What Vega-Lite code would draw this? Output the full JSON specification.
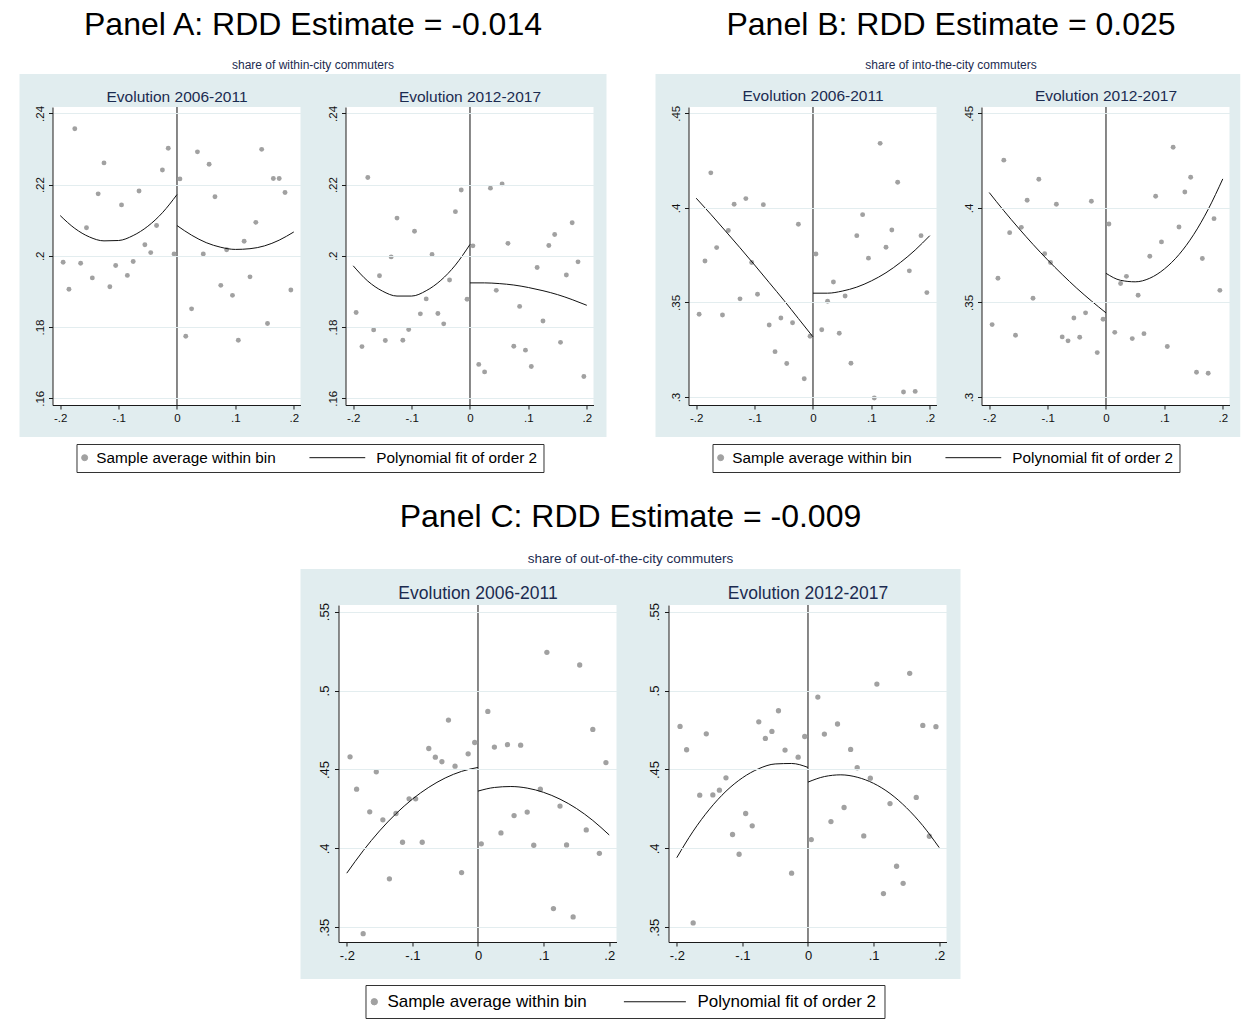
{
"$schema": "https://vega.github.io/schema/vega-lite/v6.json",
"background": "white",
"padding": {"left": 19, "top": 8, "right": 0, "bottom": 4},
"spacing": 28,
"center": true,
"resolve": {"scale": {"color": "independent", "shape": "independent", "x": "independent", "y": "independent"}, "legend": {"color": "independent", "shape": "independent"}},
"datasets": {
"a1p": [{"x":-0.195,"y":0.1982},{"x":-0.185,"y":0.1906},{"x":-0.175,"y":0.2357},{"x":-0.165,"y":0.1979},{"x":-0.155,"y":0.2079},{"x":-0.145,"y":0.1938},{"x":-0.135,"y":0.2174},{"x":-0.125,"y":0.2261},{"x":-0.115,"y":0.1913},{"x":-0.105,"y":0.1973},{"x":-0.095,"y":0.2143},{"x":-0.085,"y":0.1945},{"x":-0.075,"y":0.1984},{"x":-0.065,"y":0.2182},{"x":-0.055,"y":0.2031},{"x":-0.045,"y":0.2009},{"x":-0.035,"y":0.2085},{"x":-0.025,"y":0.2241},{"x":-0.015,"y":0.2302},{"x":-0.005,"y":0.2005},{"x":0.005,"y":0.2216},{"x":0.015,"y":0.1774},{"x":0.025,"y":0.1851},{"x":0.035,"y":0.2292},{"x":0.045,"y":0.2005},{"x":0.055,"y":0.2257},{"x":0.065,"y":0.2166},{"x":0.075,"y":0.1917},{"x":0.085,"y":0.2017},{"x":0.095,"y":0.1889},{"x":0.105,"y":0.1763},{"x":0.115,"y":0.2041},{"x":0.125,"y":0.1941},{"x":0.135,"y":0.2094},{"x":0.145,"y":0.2299},{"x":0.155,"y":0.1810},{"x":0.165,"y":0.2217},{"x":0.175,"y":0.2217},{"x":0.185,"y":0.2178},{"x":0.195,"y":0.1904}],
"a1f": [{"x":-0.2,"y":0.2113,"side":"L"},{"x":-0.175,"y":0.2077,"side":"L"},{"x":-0.15,"y":0.2053,"side":"L"},{"x":-0.125,"y":0.2042,"side":"L"},{"x":-0.1,"y":0.2043,"side":"L"},{"x":-0.075,"y":0.2057,"side":"L"},{"x":-0.05,"y":0.2083,"side":"L"},{"x":-0.025,"y":0.2121,"side":"L"},{"x":0,"y":0.2172,"side":"L"},{"x":0,"y":0.2085,"side":"R"},{"x":0.025,"y":0.2058,"side":"R"},{"x":0.05,"y":0.2037,"side":"R"},{"x":0.075,"y":0.2024,"side":"R"},{"x":0.1,"y":0.2018,"side":"R"},{"x":0.125,"y":0.2020,"side":"R"},{"x":0.15,"y":0.2028,"side":"R"},{"x":0.175,"y":0.2044,"side":"R"},{"x":0.2,"y":0.2067,"side":"R"}],
"a2p": [{"x":-0.195,"y":0.1841},{"x":-0.185,"y":0.1745},{"x":-0.175,"y":0.2220},{"x":-0.165,"y":0.1792},{"x":-0.155,"y":0.1944},{"x":-0.145,"y":0.1762},{"x":-0.135,"y":0.1997},{"x":-0.125,"y":0.2106},{"x":-0.115,"y":0.1763},{"x":-0.105,"y":0.1793},{"x":-0.095,"y":0.2069},{"x":-0.085,"y":0.1837},{"x":-0.075,"y":0.1879},{"x":-0.065,"y":0.2004},{"x":-0.055,"y":0.1838},{"x":-0.045,"y":0.1809},{"x":-0.035,"y":0.1932},{"x":-0.025,"y":0.2124},{"x":-0.015,"y":0.2185},{"x":-0.005,"y":0.1878},{"x":0.005,"y":0.2028},{"x":0.015,"y":0.1695},{"x":0.025,"y":0.1674},{"x":0.035,"y":0.2190},{"x":0.045,"y":0.1903},{"x":0.055,"y":0.2202},{"x":0.065,"y":0.2035},{"x":0.075,"y":0.1746},{"x":0.085,"y":0.1858},{"x":0.095,"y":0.1735},{"x":0.105,"y":0.1689},{"x":0.115,"y":0.1967},{"x":0.125,"y":0.1817},{"x":0.135,"y":0.2029},{"x":0.145,"y":0.2060},{"x":0.155,"y":0.1757},{"x":0.165,"y":0.1946},{"x":0.175,"y":0.2093},{"x":0.185,"y":0.1983},{"x":0.195,"y":0.1661}],
"a2f": [{"x":-0.2,"y":0.1972,"side":"L"},{"x":-0.175,"y":0.1929,"side":"L"},{"x":-0.15,"y":0.1901,"side":"L"},{"x":-0.125,"y":0.1887,"side":"L"},{"x":-0.1,"y":0.1887,"side":"L"},{"x":-0.075,"y":0.1902,"side":"L"},{"x":-0.05,"y":0.1931,"side":"L"},{"x":-0.025,"y":0.1974,"side":"L"},{"x":0,"y":0.2032,"side":"L"},{"x":0,"y":0.1924,"side":"R"},{"x":0.025,"y":0.1924,"side":"R"},{"x":0.05,"y":0.1922,"side":"R"},{"x":0.075,"y":0.1918,"side":"R"},{"x":0.1,"y":0.1911,"side":"R"},{"x":0.125,"y":0.1902,"side":"R"},{"x":0.15,"y":0.1891,"side":"R"},{"x":0.175,"y":0.1877,"side":"R"},{"x":0.2,"y":0.1861,"side":"R"}],
"b1p": [{"x":-0.195,"y":0.3438},{"x":-0.185,"y":0.3719},{"x":-0.175,"y":0.4185},{"x":-0.165,"y":0.3790},{"x":-0.155,"y":0.3434},{"x":-0.145,"y":0.3880},{"x":-0.135,"y":0.4019},{"x":-0.125,"y":0.3519},{"x":-0.115,"y":0.4049},{"x":-0.105,"y":0.3711},{"x":-0.095,"y":0.3543},{"x":-0.085,"y":0.4017},{"x":-0.075,"y":0.3381},{"x":-0.065,"y":0.3240},{"x":-0.055,"y":0.3418},{"x":-0.045,"y":0.3177},{"x":-0.035,"y":0.3393},{"x":-0.025,"y":0.3913},{"x":-0.015,"y":0.3097},{"x":-0.005,"y":0.3321},{"x":0.005,"y":0.3756},{"x":0.015,"y":0.3356},{"x":0.025,"y":0.3506},{"x":0.035,"y":0.3608},{"x":0.045,"y":0.3337},{"x":0.055,"y":0.3534},{"x":0.065,"y":0.3179},{"x":0.075,"y":0.3853},{"x":0.085,"y":0.3964},{"x":0.095,"y":0.3734},{"x":0.105,"y":0.2995},{"x":0.115,"y":0.4341},{"x":0.125,"y":0.3792},{"x":0.135,"y":0.3883},{"x":0.145,"y":0.4135},{"x":0.155,"y":0.3027},{"x":0.165,"y":0.3667},{"x":0.175,"y":0.3030},{"x":0.185,"y":0.3853},{"x":0.195,"y":0.3552}],
"b1f": [{"x":-0.2,"y":0.4051,"side":"L"},{"x":-0.175,"y":0.3966,"side":"L"},{"x":-0.15,"y":0.3878,"side":"L"},{"x":-0.125,"y":0.3789,"side":"L"},{"x":-0.1,"y":0.3698,"side":"L"},{"x":-0.075,"y":0.3605,"side":"L"},{"x":-0.05,"y":0.3512,"side":"L"},{"x":-0.025,"y":0.3415,"side":"L"},{"x":0,"y":0.3318,"side":"L"},{"x":0,"y":0.3549,"side":"R"},{"x":0.025,"y":0.3549,"side":"R"},{"x":0.05,"y":0.3560,"side":"R"},{"x":0.075,"y":0.3581,"side":"R"},{"x":0.1,"y":0.3614,"side":"R"},{"x":0.125,"y":0.3657,"side":"R"},{"x":0.15,"y":0.3712,"side":"R"},{"x":0.175,"y":0.3777,"side":"R"},{"x":0.2,"y":0.3853,"side":"R"}],
"b2p": [{"x":-0.195,"y":0.3383},{"x":-0.185,"y":0.3628},{"x":-0.175,"y":0.4252},{"x":-0.165,"y":0.3869},{"x":-0.155,"y":0.3327},{"x":-0.145,"y":0.3897},{"x":-0.135,"y":0.4040},{"x":-0.125,"y":0.3522},{"x":-0.115,"y":0.4151},{"x":-0.105,"y":0.3758},{"x":-0.095,"y":0.3711},{"x":-0.085,"y":0.4019},{"x":-0.075,"y":0.3318},{"x":-0.065,"y":0.3297},{"x":-0.055,"y":0.3418},{"x":-0.045,"y":0.3316},{"x":-0.035,"y":0.3445},{"x":-0.025,"y":0.4035},{"x":-0.015,"y":0.3235},{"x":-0.005,"y":0.3411},{"x":0.005,"y":0.3915},{"x":0.015,"y":0.3342},{"x":0.025,"y":0.3600},{"x":0.035,"y":0.3638},{"x":0.045,"y":0.3309},{"x":0.055,"y":0.3538},{"x":0.065,"y":0.3335},{"x":0.075,"y":0.3744},{"x":0.085,"y":0.4061},{"x":0.095,"y":0.3820},{"x":0.105,"y":0.3267},{"x":0.115,"y":0.4320},{"x":0.125,"y":0.3899},{"x":0.135,"y":0.4084},{"x":0.145,"y":0.4162},{"x":0.155,"y":0.3131},{"x":0.165,"y":0.3732},{"x":0.175,"y":0.3126},{"x":0.185,"y":0.3943},{"x":0.195,"y":0.3564}],
"b2f": [{"x":-0.2,"y":0.4081,"side":"L"},{"x":-0.175,"y":0.3985,"side":"L"},{"x":-0.15,"y":0.3894,"side":"L"},{"x":-0.125,"y":0.3807,"side":"L"},{"x":-0.1,"y":0.3725,"side":"L"},{"x":-0.075,"y":0.3648,"side":"L"},{"x":-0.05,"y":0.3575,"side":"L"},{"x":-0.025,"y":0.3508,"side":"L"},{"x":0,"y":0.3445,"side":"L"},{"x":0,"y":0.3654,"side":"R"},{"x":0.025,"y":0.3617,"side":"R"},{"x":0.05,"y":0.3609,"side":"R"},{"x":0.075,"y":0.3628,"side":"R"},{"x":0.1,"y":0.3677,"side":"R"},{"x":0.125,"y":0.3753,"side":"R"},{"x":0.15,"y":0.3858,"side":"R"},{"x":0.175,"y":0.3992,"side":"R"},{"x":0.2,"y":0.4153,"side":"R"}],
"c1p": [{"x":-0.195,"y":0.4580},{"x":-0.185,"y":0.4375},{"x":-0.175,"y":0.3460},{"x":-0.165,"y":0.4232},{"x":-0.155,"y":0.4485},{"x":-0.145,"y":0.4181},{"x":-0.135,"y":0.3807},{"x":-0.125,"y":0.4221},{"x":-0.115,"y":0.4039},{"x":-0.105,"y":0.4314},{"x":-0.095,"y":0.4314},{"x":-0.085,"y":0.4039},{"x":-0.075,"y":0.4633},{"x":-0.065,"y":0.4578},{"x":-0.055,"y":0.4549},{"x":-0.045,"y":0.4813},{"x":-0.035,"y":0.4521},{"x":-0.025,"y":0.3847},{"x":-0.015,"y":0.4599},{"x":-0.005,"y":0.4671},{"x":0.005,"y":0.4029},{"x":0.015,"y":0.4868},{"x":0.025,"y":0.4642},{"x":0.035,"y":0.4098},{"x":0.045,"y":0.4657},{"x":0.055,"y":0.4208},{"x":0.065,"y":0.4654},{"x":0.075,"y":0.4230},{"x":0.085,"y":0.4020},{"x":0.095,"y":0.4375},{"x":0.105,"y":0.5242},{"x":0.115,"y":0.3619},{"x":0.125,"y":0.4268},{"x":0.135,"y":0.4022},{"x":0.145,"y":0.3566},{"x":0.155,"y":0.5162},{"x":0.165,"y":0.4117},{"x":0.175,"y":0.4754},{"x":0.185,"y":0.3969},{"x":0.195,"y":0.4544}],
"c1f": [{"x":-0.2,"y":0.3843,"side":"L"},{"x":-0.175,"y":0.3985,"side":"L"},{"x":-0.15,"y":0.4111,"side":"L"},{"x":-0.125,"y":0.4220,"side":"L"},{"x":-0.1,"y":0.4312,"side":"L"},{"x":-0.075,"y":0.4387,"side":"L"},{"x":-0.05,"y":0.4446,"side":"L"},{"x":-0.025,"y":0.4488,"side":"L"},{"x":0,"y":0.4513,"side":"L"},{"x":0,"y":0.4363,"side":"R"},{"x":0.025,"y":0.4386,"side":"R"},{"x":0.05,"y":0.4392,"side":"R"},{"x":0.075,"y":0.4382,"side":"R"},{"x":0.1,"y":0.4355,"side":"R"},{"x":0.125,"y":0.4312,"side":"R"},{"x":0.15,"y":0.4253,"side":"R"},{"x":0.175,"y":0.4177,"side":"R"},{"x":0.2,"y":0.4085,"side":"R"}],
"c2p": [{"x":-0.195,"y":0.4773},{"x":-0.185,"y":0.4625},{"x":-0.175,"y":0.3528},{"x":-0.165,"y":0.4337},{"x":-0.155,"y":0.4726},{"x":-0.145,"y":0.4339},{"x":-0.135,"y":0.4369},{"x":-0.125,"y":0.4447},{"x":-0.115,"y":0.4088},{"x":-0.105,"y":0.3963},{"x":-0.095,"y":0.4221},{"x":-0.085,"y":0.4143},{"x":-0.075,"y":0.4802},{"x":-0.065,"y":0.4697},{"x":-0.055,"y":0.4741},{"x":-0.045,"y":0.4872},{"x":-0.035,"y":0.4623},{"x":-0.025,"y":0.3843},{"x":-0.015,"y":0.4578},{"x":-0.005,"y":0.4709},{"x":0.005,"y":0.4056},{"x":0.015,"y":0.4959},{"x":0.025,"y":0.4724},{"x":0.035,"y":0.4170},{"x":0.045,"y":0.4788},{"x":0.055,"y":0.4259},{"x":0.065,"y":0.4627},{"x":0.075,"y":0.4511},{"x":0.085,"y":0.4079},{"x":0.095,"y":0.4445},{"x":0.105,"y":0.5041},{"x":0.115,"y":0.3714},{"x":0.125,"y":0.4284},{"x":0.135,"y":0.3887},{"x":0.145,"y":0.3779},{"x":0.155,"y":0.5109},{"x":0.165,"y":0.4323},{"x":0.175,"y":0.4779},{"x":0.185,"y":0.4077},{"x":0.195,"y":0.4771}],
"c2f": [{"x":-0.2,"y":0.3941,"side":"L"},{"x":-0.175,"y":0.4109,"side":"L"},{"x":-0.15,"y":0.4249,"side":"L"},{"x":-0.125,"y":0.4362,"side":"L"},{"x":-0.1,"y":0.4447,"side":"L"},{"x":-0.075,"y":0.4505,"side":"L"},{"x":-0.05,"y":0.4535,"side":"L"},{"x":-0.025,"y":0.4538,"side":"L"},{"x":0,"y":0.4513,"side":"L"},{"x":0,"y":0.4420,"side":"R"},{"x":0.025,"y":0.4455,"side":"R"},{"x":0.05,"y":0.4466,"side":"R"},{"x":0.075,"y":0.4451,"side":"R"},{"x":0.1,"y":0.4412,"side":"R"},{"x":0.125,"y":0.4348,"side":"R"},{"x":0.15,"y":0.4258,"side":"R"},{"x":0.175,"y":0.4144,"side":"R"},{"x":0.2,"y":0.4005,"side":"R"}]
},
"vconcat": [
{
"spacing": 49,
"resolve": {"scale": {"color": "independent", "shape": "independent", "x": "independent", "y": "independent"}, "legend": {"color": "independent", "shape": "independent"}},
"hconcat": [
{
"title": {"text": "Panel A: RDD Estimate = -0.014", "subtitle": "share of within-city commuters"},
"bounds": "flush",
"spacing": 45,
"resolve": {"scale": {"x": "independent", "y": "independent"}},
"hconcat": [
{"width": 248, "height": 298, "layer": [
 {"data": {"values": [{}]}, "mark": {"type": "rect", "color": "#e1edef"}, "encoding": {
  "x": {"datum": -0.26971, "type": "quantitative", "scale": {"domain": [-0.2132, 0.2115], "nice": false, "zero": false}, "axis": {"zindex": 1, "values": [-0.2, -0.1, 0, 0.1, 0.2], "labelExpr": "datum.value == 0 ? '0' : (datum.value < 0 ? '-' : '') + slice(format(abs(datum.value), '.2~f'), 1)"}},
  "x2": {"datum": 0.25003},
  "y": {"datum": 0.25107, "type": "quantitative", "scale": {"domain": [0.1581, 0.2418], "nice": false, "zero": false}, "axis": {"zindex": 1, "values": [0.16, 0.18, 0.2, 0.22, 0.24], "labelExpr": "datum.value == 0 ? '0' : (datum.value < 0 ? '-' : '') + slice(format(abs(datum.value), '.2~f'), 1)"}},
  "y2": {"datum": 0.14911}}},
 {"data": {"values": [{}]}, "mark": {"type": "rect", "color": "white"}, "encoding": {"x": {"datum": -0.2132, "type": "quantitative"}, "x2": {"datum": 0.2115}, "y": {"datum": 0.2418, "type": "quantitative"}, "y2": {"datum": 0.1581}}},
 {"data": {"values": [{}]}, "mark": {"type": "rule", "color": "#111111", "strokeWidth": 1}, "encoding": {"x": {"datum": 0, "type": "quantitative"}}},
 {"data": {"name": "a1p"}, "mark": {"type": "point", "filled": true, "size": 24, "opacity": 1, "strokeWidth": 0}, "encoding": {
  "x": {"field": "x", "type": "quantitative"}, "y": {"field": "y", "type": "quantitative"},
  "color": {"datum": "Sample average within bin", "type": "nominal", "scale": {"domain": ["Sample average within bin", "Polynomial fit of order 2"], "range": ["#a1a1a1", "#111111"]},
   "legend": {"orient": "none", "legendX": 24, "legendY": 337, "direction": "horizontal", "title": null, "labelFontSize": 15.3, "labelOffset": 4, "symbolOffset": -5.5, "columnPadding": 30, "padding": 6, "symbolSize": 36, "symbolStrokeWidth": 1, "symbolOpacity": 1}},
  "shape": {"datum": "Sample average within bin", "type": "nominal", "scale": {"domain": ["Sample average within bin", "Polynomial fit of order 2"], "range": ["circle", "M-18.4,0H0.2"]},
   "legend": {"orient": "none", "legendX": 24, "legendY": 337, "direction": "horizontal", "title": null, "labelFontSize": 15.3, "labelOffset": 4, "symbolOffset": -5.5, "columnPadding": 30, "padding": 6, "symbolSize": 36, "symbolStrokeWidth": 1, "symbolOpacity": 1}}}},
 {"data": {"name": "a1f"}, "mark": {"type": "line", "strokeWidth": 1, "interpolate": "monotone"}, "encoding": {"x": {"field": "x", "type": "quantitative"}, "y": {"field": "y", "type": "quantitative"}, "detail": {"field": "side", "type": "nominal"}, "color": {"datum": "Polynomial fit of order 2", "type": "nominal"}}},
 {"data": {"values": [{}]}, "mark": {"type": "text", "text": "Evolution 2006-2011", "fontSize": 15.5, "color": "#1b2b50", "align": "center", "baseline": "alphabetic"}, "encoding": {"x": {"datum": 0, "type": "quantitative"}, "y": {"datum": 0.24334, "type": "quantitative"}}}
]},
{"width": 248, "height": 298, "layer": [
 {"data": {"values": [{}]}, "mark": {"type": "rect", "color": "#e1edef"}, "encoding": {
  "x": {"datum": -0.25259, "type": "quantitative", "scale": {"domain": [-0.2132, 0.2115], "nice": false, "zero": false}, "axis": {"zindex": 1, "values": [-0.2, -0.1, 0, 0.1, 0.2], "labelExpr": "datum.value == 0 ? '0' : (datum.value < 0 ? '-' : '') + slice(format(abs(datum.value), '.2~f'), 1)"}},
  "x2": {"datum": 0.23376},
  "y": {"datum": 0.25107, "type": "quantitative", "scale": {"domain": [0.1581, 0.2418], "nice": false, "zero": false}, "axis": {"zindex": 1, "values": [0.16, 0.18, 0.2, 0.22, 0.24], "labelExpr": "datum.value == 0 ? '0' : (datum.value < 0 ? '-' : '') + slice(format(abs(datum.value), '.2~f'), 1)"}},
  "y2": {"datum": 0.14911}}},
 {"data": {"values": [{}]}, "mark": {"type": "rect", "color": "white"}, "encoding": {"x": {"datum": -0.2132, "type": "quantitative"}, "x2": {"datum": 0.2115}, "y": {"datum": 0.2418, "type": "quantitative"}, "y2": {"datum": 0.1581}}},
 {"data": {"values": [{}]}, "mark": {"type": "rule", "color": "#111111", "strokeWidth": 1}, "encoding": {"x": {"datum": 0, "type": "quantitative"}}},
 {"data": {"name": "a2p"}, "mark": {"type": "point", "filled": true, "size": 24, "opacity": 1, "strokeWidth": 0}, "encoding": {"x": {"field": "x", "type": "quantitative"}, "y": {"field": "y", "type": "quantitative"}, "color": {"datum": "Sample average within bin", "type": "nominal"}}},
 {"data": {"name": "a2f"}, "mark": {"type": "line", "strokeWidth": 1, "interpolate": "monotone"}, "encoding": {"x": {"field": "x", "type": "quantitative"}, "y": {"field": "y", "type": "quantitative"}, "detail": {"field": "side", "type": "nominal"}, "color": {"datum": "Polynomial fit of order 2", "type": "nominal"}}},
 {"data": {"values": [{}]}, "mark": {"type": "text", "text": "Evolution 2012-2017", "fontSize": 15.5, "color": "#1b2b50", "align": "center", "baseline": "alphabetic"}, "encoding": {"x": {"datum": 0, "type": "quantitative"}, "y": {"datum": 0.24334, "type": "quantitative"}}}
]}
]
},
{
"title": {"text": "Panel B: RDD Estimate = 0.025", "subtitle": "share of into-the-city commuters"},
"bounds": "flush",
"spacing": 45,
"resolve": {"scale": {"x": "independent", "y": "independent"}},
"hconcat": [
{"width": 248, "height": 298, "layer": [
 {"data": {"values": [{}]}, "mark": {"type": "rect", "color": "#e1edef"}, "encoding": {
  "x": {"datum": -0.26971, "type": "quantitative", "scale": {"domain": [-0.2132, 0.2115], "nice": false, "zero": false}, "axis": {"zindex": 1, "values": [-0.2, -0.1, 0, 0.1, 0.2], "labelExpr": "datum.value == 0 ? '0' : (datum.value < 0 ? '-' : '') + slice(format(abs(datum.value), '.2~f'), 1)"}},
  "x2": {"datum": 0.25003},
  "y": {"datum": 0.47074, "type": "quantitative", "scale": {"domain": [0.2958, 0.4533], "nice": false, "zero": false}, "axis": {"zindex": 1, "values": [0.3, 0.35, 0.4, 0.45], "labelExpr": "datum.value == 0 ? '0' : (datum.value < 0 ? '-' : '') + slice(format(abs(datum.value), '.2~f'), 1)"}},
  "y2": {"datum": 0.27889}}},
 {"data": {"values": [{}]}, "mark": {"type": "rect", "color": "white"}, "encoding": {"x": {"datum": -0.2132, "type": "quantitative"}, "x2": {"datum": 0.2115}, "y": {"datum": 0.4533, "type": "quantitative"}, "y2": {"datum": 0.2958}}},
 {"data": {"values": [{}]}, "mark": {"type": "rule", "color": "#111111", "strokeWidth": 1}, "encoding": {"x": {"datum": 0, "type": "quantitative"}}},
 {"data": {"name": "b1p"}, "mark": {"type": "point", "filled": true, "size": 24, "opacity": 1, "strokeWidth": 0}, "encoding": {
  "x": {"field": "x", "type": "quantitative"}, "y": {"field": "y", "type": "quantitative"},
  "color": {"datum": "Sample average within bin", "type": "nominal", "scale": {"domain": ["Sample average within bin", "Polynomial fit of order 2"], "range": ["#a1a1a1", "#111111"]},
   "legend": {"orient": "none", "legendX": 24, "legendY": 337, "direction": "horizontal", "title": null, "labelFontSize": 15.3, "labelOffset": 4, "symbolOffset": -5.5, "columnPadding": 30, "padding": 6, "symbolSize": 36, "symbolStrokeWidth": 1, "symbolOpacity": 1}},
  "shape": {"datum": "Sample average within bin", "type": "nominal", "scale": {"domain": ["Sample average within bin", "Polynomial fit of order 2"], "range": ["circle", "M-18.4,0H0.2"]},
   "legend": {"orient": "none", "legendX": 24, "legendY": 337, "direction": "horizontal", "title": null, "labelFontSize": 15.3, "labelOffset": 4, "symbolOffset": -5.5, "columnPadding": 30, "padding": 6, "symbolSize": 36, "symbolStrokeWidth": 1, "symbolOpacity": 1}}}},
 {"data": {"name": "b1f"}, "mark": {"type": "line", "strokeWidth": 1, "interpolate": "monotone"}, "encoding": {"x": {"field": "x", "type": "quantitative"}, "y": {"field": "y", "type": "quantitative"}, "detail": {"field": "side", "type": "nominal"}, "color": {"datum": "Polynomial fit of order 2", "type": "nominal"}}},
 {"data": {"values": [{}]}, "mark": {"type": "text", "text": "Evolution 2006-2011", "fontSize": 15.5, "color": "#1b2b50", "align": "center", "baseline": "alphabetic"}, "encoding": {"x": {"datum": 0, "type": "quantitative"}, "y": {"datum": 0.45621, "type": "quantitative"}}}
]},
{"width": 248, "height": 298, "layer": [
 {"data": {"values": [{}]}, "mark": {"type": "rect", "color": "#e1edef"}, "encoding": {
  "x": {"datum": -0.25259, "type": "quantitative", "scale": {"domain": [-0.2132, 0.2115], "nice": false, "zero": false}, "axis": {"zindex": 1, "values": [-0.2, -0.1, 0, 0.1, 0.2], "labelExpr": "datum.value == 0 ? '0' : (datum.value < 0 ? '-' : '') + slice(format(abs(datum.value), '.2~f'), 1)"}},
  "x2": {"datum": 0.23034},
  "y": {"datum": 0.47074, "type": "quantitative", "scale": {"domain": [0.2958, 0.4533], "nice": false, "zero": false}, "axis": {"zindex": 1, "values": [0.3, 0.35, 0.4, 0.45], "labelExpr": "datum.value == 0 ? '0' : (datum.value < 0 ? '-' : '') + slice(format(abs(datum.value), '.2~f'), 1)"}},
  "y2": {"datum": 0.27889}}},
 {"data": {"values": [{}]}, "mark": {"type": "rect", "color": "white"}, "encoding": {"x": {"datum": 0.23034, "type": "quantitative"}, "x2": {"datum": 0.24062}, "y": {"datum": 0.47074, "type": "quantitative"}, "y2": {"datum": 0.27889}}},
 {"data": {"values": [{}]}, "mark": {"type": "rect", "color": "white"}, "encoding": {"x": {"datum": -0.2132, "type": "quantitative"}, "x2": {"datum": 0.2115}, "y": {"datum": 0.4533, "type": "quantitative"}, "y2": {"datum": 0.2958}}},
 {"data": {"values": [{}]}, "mark": {"type": "rule", "color": "#111111", "strokeWidth": 1}, "encoding": {"x": {"datum": 0, "type": "quantitative"}}},
 {"data": {"name": "b2p"}, "mark": {"type": "point", "filled": true, "size": 24, "opacity": 1, "strokeWidth": 0}, "encoding": {"x": {"field": "x", "type": "quantitative"}, "y": {"field": "y", "type": "quantitative"}, "color": {"datum": "Sample average within bin", "type": "nominal"}}},
 {"data": {"name": "b2f"}, "mark": {"type": "line", "strokeWidth": 1, "interpolate": "monotone"}, "encoding": {"x": {"field": "x", "type": "quantitative"}, "y": {"field": "y", "type": "quantitative"}, "detail": {"field": "side", "type": "nominal"}, "color": {"datum": "Polynomial fit of order 2", "type": "nominal"}}},
 {"data": {"values": [{}]}, "mark": {"type": "text", "text": "Evolution 2012-2017", "fontSize": 15.5, "color": "#1b2b50", "align": "center", "baseline": "alphabetic"}, "encoding": {"x": {"datum": 0, "type": "quantitative"}, "y": {"datum": 0.45621, "type": "quantitative"}}}
]}
]
}
]
},
{
"title": {"text": "Panel C: RDD Estimate = -0.009", "subtitle": "share of  out-of-the-city commuters", "subtitleFontSize": 13.5},
"bounds": "flush",
"spacing": 52,
"resolve": {"scale": {"x": "independent", "y": "independent"}},
"hconcat": [
{"width": 278, "height": 337, "layer": [
 {"data": {"values": [{}]}, "mark": {"type": "rect", "color": "#e1edef"}, "encoding": {
  "x": {"datum": -0.27052, "type": "quantitative", "scale": {"domain": [-0.2126, 0.2111], "nice": false, "zero": false}, "axis": {"zindex": 1, "values": [-0.2, -0.1, 0, 0.1, 0.2], "labelFontSize": 13, "labelExpr": "datum.value == 0 ? '0' : (datum.value < 0 ? '-' : '') + slice(format(abs(datum.value), '.2~f'), 1)"}},
  "x2": {"datum": 0.25149},
  "y": {"datum": 0.57701, "type": "quantitative", "scale": {"domain": [0.3407, 0.5542], "nice": false, "zero": false}, "axis": {"zindex": 1, "values": [0.35, 0.4, 0.45, 0.5, 0.55], "labelFontSize": 13, "labelExpr": "datum.value == 0 ? '0' : (datum.value < 0 ? '-' : '') + slice(format(abs(datum.value), '.2~f'), 1)"}},
  "y2": {"datum": 0.31726}}},
 {"data": {"values": [{}]}, "mark": {"type": "rect", "color": "white"}, "encoding": {"x": {"datum": -0.2126, "type": "quantitative"}, "x2": {"datum": 0.2111}, "y": {"datum": 0.5542, "type": "quantitative"}, "y2": {"datum": 0.3407}}},
 {"data": {"values": [{}]}, "mark": {"type": "rule", "color": "#111111", "strokeWidth": 1}, "encoding": {"x": {"datum": 0, "type": "quantitative"}}},
 {"data": {"name": "c1p"}, "mark": {"type": "point", "filled": true, "size": 28, "opacity": 1, "strokeWidth": 0}, "encoding": {
  "x": {"field": "x", "type": "quantitative"}, "y": {"field": "y", "type": "quantitative"},
  "color": {"datum": "Sample average within bin", "type": "nominal", "scale": {"domain": ["Sample average within bin", "Polynomial fit of order 2"], "range": ["#a1a1a1", "#111111"]},
   "legend": {"orient": "none", "legendX": 27, "legendY": 380, "direction": "horizontal", "title": null, "labelFontSize": 17, "labelOffset": 4.6, "symbolOffset": -7.7, "columnPadding": 34, "padding": 8, "symbolSize": 40, "symbolStrokeWidth": 1, "symbolOpacity": 1}},
  "shape": {"datum": "Sample average within bin", "type": "nominal", "scale": {"domain": ["Sample average within bin", "Polynomial fit of order 2"], "range": ["circle", "M-19.1,0H0.5"]},
   "legend": {"orient": "none", "legendX": 27, "legendY": 380, "direction": "horizontal", "title": null, "labelFontSize": 17, "labelOffset": 4.6, "symbolOffset": -7.7, "columnPadding": 34, "padding": 8, "symbolSize": 40, "symbolStrokeWidth": 1, "symbolOpacity": 1}}}},
 {"data": {"name": "c1f"}, "mark": {"type": "line", "strokeWidth": 1, "interpolate": "monotone"}, "encoding": {"x": {"field": "x", "type": "quantitative"}, "y": {"field": "y", "type": "quantitative"}, "detail": {"field": "side", "type": "nominal"}, "color": {"datum": "Polynomial fit of order 2", "type": "nominal"}}},
 {"data": {"values": [{}]}, "mark": {"type": "text", "text": "Evolution 2006-2011", "fontSize": 17.5, "color": "#1b2b50", "align": "center", "baseline": "alphabetic"}, "encoding": {"x": {"datum": 0, "type": "quantitative"}, "y": {"datum": 0.558, "type": "quantitative"}}}
]},
{"width": 278, "height": 337, "layer": [
 {"data": {"values": [{}]}, "mark": {"type": "rect", "color": "#e1edef"}, "encoding": {
  "x": {"datum": -0.25223, "type": "quantitative", "scale": {"domain": [-0.2126, 0.2111], "nice": false, "zero": false}, "axis": {"zindex": 1, "values": [-0.2, -0.1, 0, 0.1, 0.2], "labelFontSize": 13, "labelExpr": "datum.value == 0 ? '0' : (datum.value < 0 ? '-' : '') + slice(format(abs(datum.value), '.2~f'), 1)"}},
  "x2": {"datum": 0.23244},
  "y": {"datum": 0.57701, "type": "quantitative", "scale": {"domain": [0.3407, 0.5542], "nice": false, "zero": false}, "axis": {"zindex": 1, "values": [0.35, 0.4, 0.45, 0.5, 0.55], "labelFontSize": 13, "labelExpr": "datum.value == 0 ? '0' : (datum.value < 0 ? '-' : '') + slice(format(abs(datum.value), '.2~f'), 1)"}},
  "y2": {"datum": 0.31726}}},
 {"data": {"values": [{}]}, "mark": {"type": "rect", "color": "white"}, "encoding": {"x": {"datum": -0.2126, "type": "quantitative"}, "x2": {"datum": 0.2111}, "y": {"datum": 0.5542, "type": "quantitative"}, "y2": {"datum": 0.3407}}},
 {"data": {"values": [{}]}, "mark": {"type": "rule", "color": "#111111", "strokeWidth": 1}, "encoding": {"x": {"datum": 0, "type": "quantitative"}}},
 {"data": {"name": "c2p"}, "mark": {"type": "point", "filled": true, "size": 28, "opacity": 1, "strokeWidth": 0}, "encoding": {"x": {"field": "x", "type": "quantitative"}, "y": {"field": "y", "type": "quantitative"}, "color": {"datum": "Sample average within bin", "type": "nominal"}}},
 {"data": {"name": "c2f"}, "mark": {"type": "line", "strokeWidth": 1, "interpolate": "monotone"}, "encoding": {"x": {"field": "x", "type": "quantitative"}, "y": {"field": "y", "type": "quantitative"}, "detail": {"field": "side", "type": "nominal"}, "color": {"datum": "Polynomial fit of order 2", "type": "nominal"}}},
 {"data": {"values": [{}]}, "mark": {"type": "text", "text": "Evolution 2012-2017", "fontSize": 17.5, "color": "#1b2b50", "align": "center", "baseline": "alphabetic"}, "encoding": {"x": {"datum": 0, "type": "quantitative"}, "y": {"datum": 0.558, "type": "quantitative"}}}
]}
]
}
],
"config": {
 "font": "Liberation Sans",
 "view": {"stroke": null},
 "title": {"font": "Liberation Sans", "fontSize": 32, "fontWeight": "normal", "color": "#000000", "anchor": "middle", "subtitleFont": "Liberation Sans", "subtitleFontSize": 12, "subtitleColor": "#1b2b50", "subtitlePadding": 18, "offset": 2},
 "axis": {"title": null, "grid": false, "domainColor": "#1a1a1a", "domainWidth": 1, "tickColor": "#1a1a1a", "tickSize": 4, "labelColor": "#111111", "labelFont": "Liberation Sans", "labelFontSize": 11.5, "labelPadding": 3, "labelFlush": false, "labelOverlap": false},
 "axisY": {"grid": true, "gridColor": "#e3edef", "gridWidth": 1, "labelAngle": -90, "labelAlign": "center", "labelBaseline": "bottom"},
 "legend": {"labelFont": "Liberation Sans", "labelColor": "#000000", "labelLimit": 500, "strokeColor": "#333333", "fillColor": "white"},
 "text": {"font": "Liberation Sans"}
}
}
